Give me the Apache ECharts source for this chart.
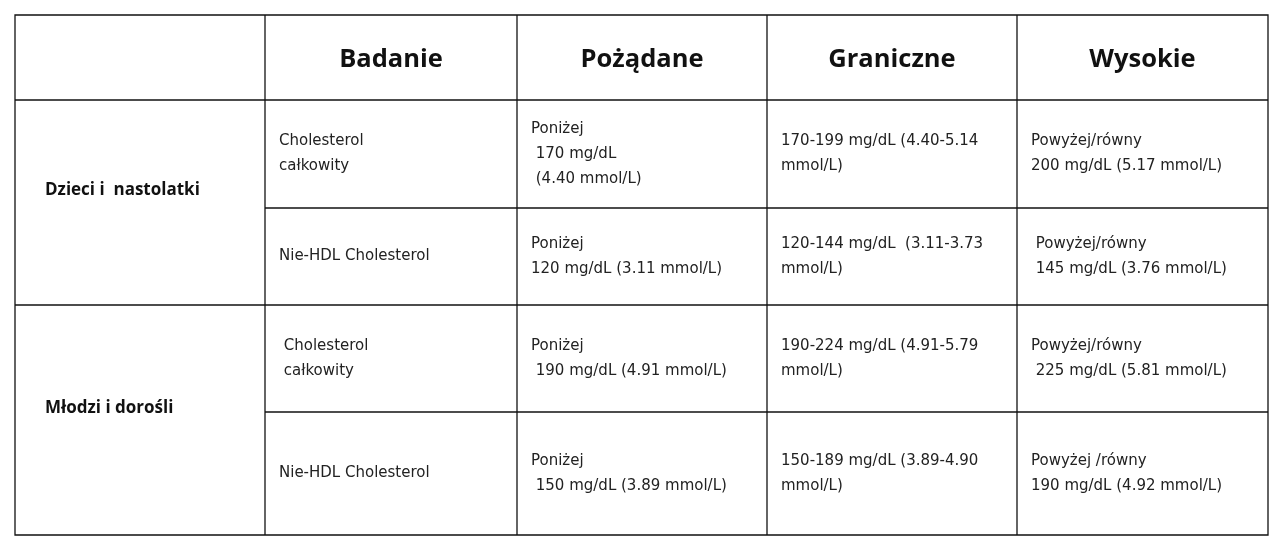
<!DOCTYPE html>
<html><head><meta charset="utf-8">
<script src="https://cdn.jsdelivr.net/npm/echarts@6/dist/echarts.min.js"></script>
<style>html,body{margin:0;padding:0;background:#fff}#c{width:1280px;height:549px}</style>
</head><body><div id="c"></div>
<script>
const headers = ["", "Badanie", "Pożądane", "Graniczne", "Wysokie"];
const groups = ["Dzieci i  nastolatki", "Młodzi i dorośli"];
const tests = [["Cholesterol\ncałkowity", "Nie-HDL Cholesterol"], [" Cholesterol\n całkowity", "Nie-HDL Cholesterol"]];
const desired = [["Poniżej\n 170 mg/dL\n (4.40 mmol/L)", "Poniżej\n120 mg/dL (3.11 mmol/L)"], ["Poniżej\n 190 mg/dL (4.91 mmol/L)", "Poniżej\n 150 mg/dL (3.89 mmol/L)"]];
const borderline = [["170-199 mg/dL (4.40-5.14\nmmol/L)", "120-144 mg/dL  (3.11-3.73\nmmol/L)"], ["190-224 mg/dL (4.91-5.79\nmmol/L)", "150-189 mg/dL (3.89-4.90\nmmol/L)"]];
const high = [["Powyżej/równy\n200 mg/dL (5.17 mmol/L)", " Powyżej/równy\n 145 mg/dL (3.76 mmol/L)"], ["Powyżej/równy\n 225 mg/dL (5.81 mmol/L)", "Powyżej /równy\n190 mg/dL (4.92 mmol/L)"]];

const colX = [15, 265, 517, 767, 1017, 1268];
const rowY = [15, 100, 208, 305, 412, 535];
const font = '"Open Sans", sans-serif';
const els = [];
const line = (x1,y1,x2,y2)=>els.push({type:'line',shape:{x1,y1,x2,y2},style:{stroke:'#111',lineWidth:1.3}});
els.push({type:'rect',shape:{x:colX[0],y:rowY[0],width:colX[5]-colX[0],height:rowY[5]-rowY[0]},style:{fill:'none',stroke:'#111',lineWidth:1.3}});
for(let i=1;i<5;i++) line(colX[i],rowY[0],colX[i],rowY[5]);
line(colX[0],rowY[1],colX[5],rowY[1]);
line(colX[0],rowY[3],colX[5],rowY[3]);
line(colX[1],rowY[2],colX[5],rowY[2]);
line(colX[1],rowY[4],colX[5],rowY[4]);
headers.forEach((h,i)=>{ if(!h) return;
  els.push({type:'text',x:(colX[i]+colX[i+1])/2,y:(rowY[0]+rowY[1])/2+2,style:{text:h,font:'bold 25.5px '+font,fill:'#111',align:'center',verticalAlign:'middle'}});
});
const cols=[tests,desired,borderline,high];
groups.forEach((g,gi)=>{
  const top=rowY[1+gi*2], bot=rowY[3+gi*2];
  els.push({type:'text',x:colX[0]+30,y:(top+bot)/2-12,style:{text:g,font:'bold 17px '+font,fill:'#111',verticalAlign:'middle'}});
  for(let r=0;r<2;r++){
    const yt=rowY[1+gi*2+r], yb=rowY[2+gi*2+r];
    cols.forEach((arr,ci)=>{
      els.push({type:'text',x:colX[ci+1]+14,y:(yt+yb)/2,style:{text:arr[gi][r],font:'15px "DejaVu Sans", sans-serif',lineHeight:25,fill:'#222',verticalAlign:'middle'}});
    });
  }
});
const chart=echarts.init(document.getElementById('c'));
chart.setOption({animation:false,graphic:{elements:els}});
</script></body></html>
